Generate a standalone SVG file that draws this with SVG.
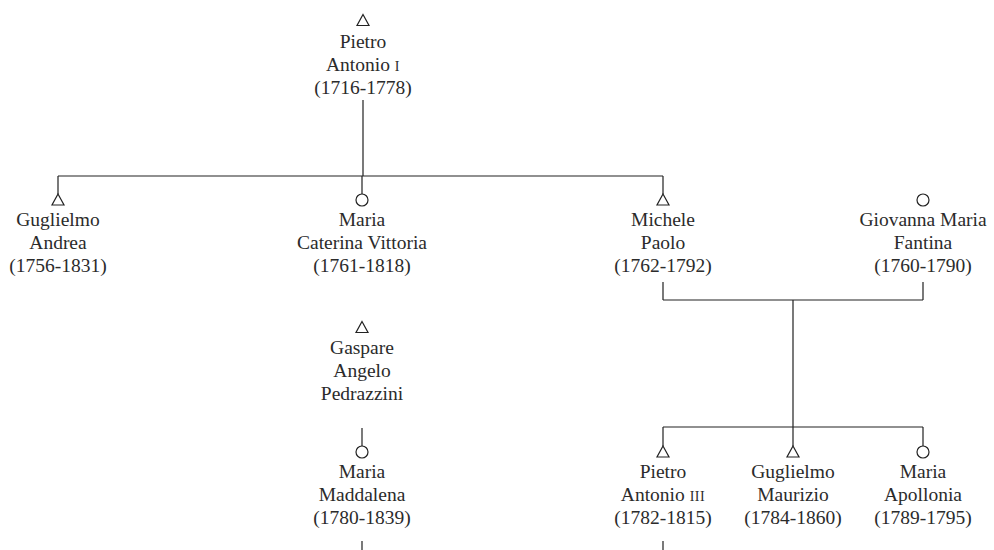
<svg xmlns="http://www.w3.org/2000/svg" width="994" height="550" viewBox="0 0 994 550">
<style>
text{font-family:"Liberation Serif","DejaVu Serif",serif;font-size:19.5px;fill:#2b2b2b;text-anchor:middle}
.sc{font-size:14px;letter-spacing:0.5px}
.sym{fill:#fff;stroke:#222;stroke-width:1.2}
.ln{fill:none;stroke:#222;stroke-width:1.2}
</style>
<defs>
<path id="tri" d="M0,-5.5 L6,5.5 L-6,5.5 Z" class="sym"/>
<circle id="cir" r="6" class="sym"/>
</defs>
<g id="connectors">
<path class="ln" d="M363,100 V176 M58,176 H663 M58,176 V194 M362,176 V194 M663,176 V194"/>
<path class="ln" d="M663,282 V300 M923,282 V300 M663,300 H923 M793,300 V427 M663,427 H923 M663,427 V446 M793,427 V446 M923,427 V446"/>
<path class="ln" d="M362,428 V446"/>
<path class="ln" d="M362,541 V550 M663,541 V550"/>
</g>
<g id="n-pietro1">
<use href="#tri" x="363" y="20"/>
<text x="363" y="48">Pietro</text>
<text x="363" y="71">Antonio <tspan class="sc">I</tspan></text>
<text x="363" y="94">(1716-1778)</text>
</g>
<g id="n-guglielmo-andrea">
<use href="#tri" x="58" y="199.5"/>
<text x="58" y="226">Guglielmo</text>
<text x="58" y="249">Andrea</text>
<text x="58" y="272">(1756-1831)</text>
</g>
<g id="n-maria-caterina">
<use href="#cir" x="362" y="200"/>
<text x="362" y="226">Maria</text>
<text x="362" y="249">Caterina Vittoria</text>
<text x="362" y="272">(1761-1818)</text>
</g>
<g id="n-michele">
<use href="#tri" x="663" y="199.5"/>
<text x="663" y="226">Michele</text>
<text x="663" y="249">Paolo</text>
<text x="663" y="272">(1762-1792)</text>
</g>
<g id="n-giovanna">
<use href="#cir" x="923" y="200"/>
<text x="923" y="226">Giovanna Maria</text>
<text x="923" y="249">Fantina</text>
<text x="923" y="272">(1760-1790)</text>
</g>
<g id="n-gaspare">
<use href="#tri" x="362" y="327"/>
<text x="362" y="354">Gaspare</text>
<text x="362" y="377">Angelo</text>
<text x="362" y="400">Pedrazzini</text>
</g>
<g id="n-maria-maddalena">
<use href="#cir" x="362" y="452"/>
<text x="362" y="478">Maria</text>
<text x="362" y="501">Maddalena</text>
<text x="362" y="524">(1780-1839)</text>
</g>
<g id="n-pietro3">
<use href="#tri" x="663" y="451.5"/>
<text x="663" y="478">Pietro</text>
<text x="663" y="501">Antonio <tspan class="sc">III</tspan></text>
<text x="663" y="524">(1782-1815)</text>
</g>
<g id="n-guglielmo-maurizio">
<use href="#tri" x="793" y="451.5"/>
<text x="793" y="478">Guglielmo</text>
<text x="793" y="501">Maurizio</text>
<text x="793" y="524">(1784-1860)</text>
</g>
<g id="n-maria-apollonia">
<use href="#cir" x="923" y="452"/>
<text x="923" y="478">Maria</text>
<text x="923" y="501">Apollonia</text>
<text x="923" y="524">(1789-1795)</text>
</g>
</svg>
